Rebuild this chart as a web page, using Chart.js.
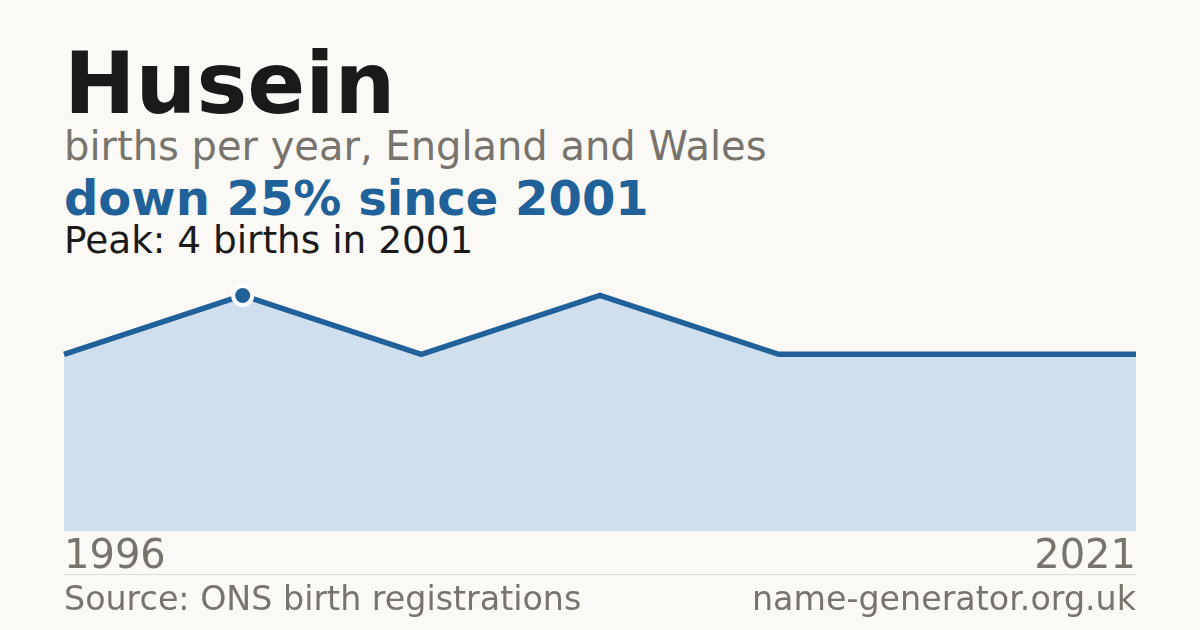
<!DOCTYPE html>
<html>
<head>
<meta charset="utf-8">
<script src="https://cdn.jsdelivr.net/npm/chart.js@4.4.1/dist/chart.umd.min.js"></script>
<style>
  html, body { margin: 0; padding: 0; }
  body {
    width: 1200px; height: 630px; overflow: hidden; position: relative;
    background: #faf9f5; font-family: "DejaVu Sans", sans-serif;
  }
  .t { position: absolute; left: 64px; line-height: 1; white-space: nowrap; }
  #title { top: 41px; font-size: 85.5px; font-weight: bold; color: #1a1a1a; }
  #sub { top: 126px; font-size: 40px; color: #78746d; }
  #headline { top: 174px; font-size: 48px; font-weight: bold; color: #21619a; }
  #peak { top: 222px; font-size: 37.4px; color: #1a1a1a; }
  #rule { position: absolute; left: 64px; top: 574px; width: 1072px; height: 1px; background: #dedbd3; }
  #source { top: 582px; font-size: 33.3px; color: #78746d; }
  #site { top: 582px; left: auto; right: 64px; font-size: 33.3px; color: #78746d; }
  #wrap { position: absolute; left: 61px; top: 266px; width: 1078px; height: 319px; }
</style>
</head>
<body>
<div class="t" id="title">Husein</div>
<div class="t" id="sub">births per year, England and Wales</div>
<div class="t" id="headline">down 25% since 2001</div>
<div class="t" id="peak">Peak: 4 births in 2001</div>
<div id="wrap"><canvas id="chart" width="1078" height="319"></canvas></div>
<div id="rule"></div>
<div class="t" id="source">Source: ONS birth registrations</div>
<div class="t" id="site">name-generator.org.uk</div>
<script>
const years = ['1996', '2001', '2005', '2010', '2014', '2018', '2021'];
const births = [3, 4, 3, 4, 3, 3, 3];
const shownYears = ['1996', '2021'];
const peakIndex = 1;

const blue = '#21619a';
const grey = '#78746d';

const ctx = document.getElementById('chart').getContext('2d');
new Chart(ctx, {
  type: 'line',
  data: {
    labels: years,
    datasets: [{
      data: births,
      borderColor: blue,
      borderWidth: 5.5,
      backgroundColor: '#cfdfee',
      fill: 'origin',
      tension: 0,
      pointRadius: births.map((v, i) => i === peakIndex ? 9.5 : 0),
      pointBackgroundColor: blue,
      pointBorderColor: '#ffffff',
      pointBorderWidth: 4,
      clip: false
    }]
  },
  options: {
    responsive: false,
    animation: false,
    layout: { padding: 0, autoPadding: false },
    plugins: { legend: { display: false }, tooltip: { enabled: false } },
    scales: {
      x: {
        offset: false,
        grid: { display: false, drawTicks: false },
        border: { display: false },
        ticks: {
          autoSkip: false,
          maxRotation: 0,
          align: 'inner',
          padding: 3,
          color: grey,
          font: { family: 'DejaVu Sans', size: 40 },
          callback: function (value) {
            const label = this.getLabelForValue(value);
            return shownYears.includes(label) ? label : '';
          }
        }
      },
      y: {
        display: false,
        min: 0,
        max: 4.5
      }
    }
  }
});
</script>
</body>
</html>
